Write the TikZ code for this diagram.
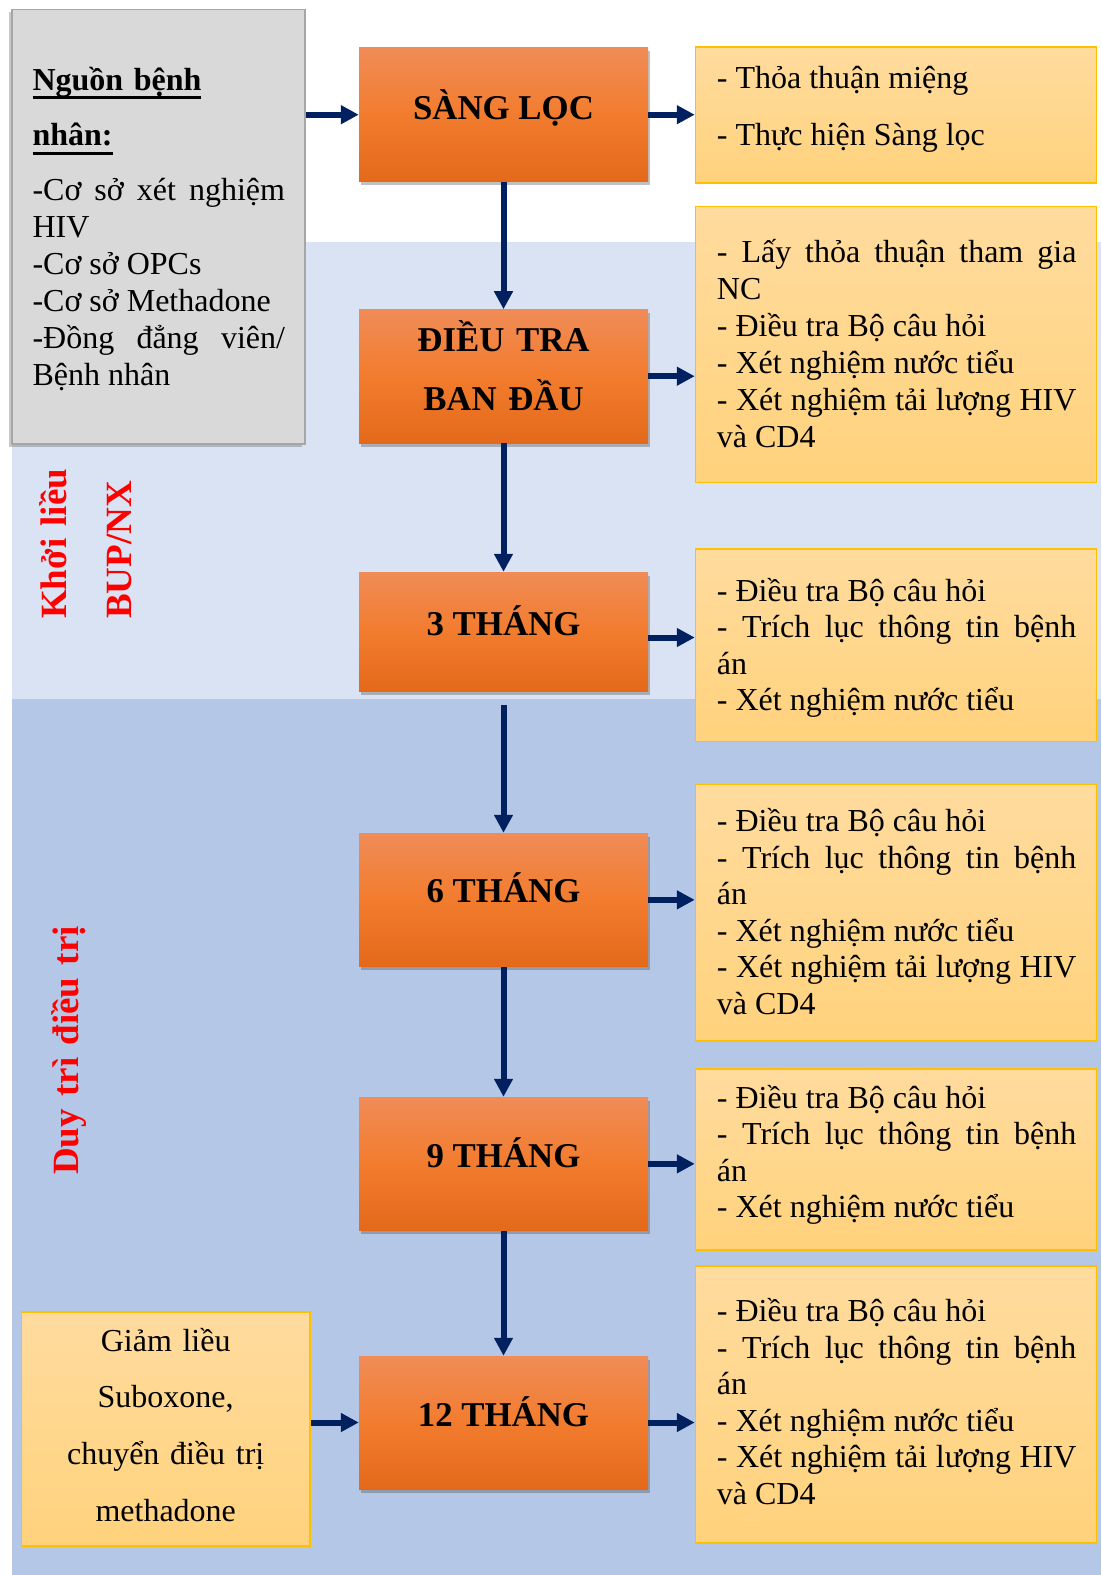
\documentclass[tikz,border=0pt]{standalone}
\usepackage{fontspec}
\setmainfont{Liberation Serif}
\usetikzlibrary{arrows.meta,shadows}
\definecolor{bandA}{HTML}{DAE3F3}
\definecolor{bandB}{HTML}{B4C7E7}
\definecolor{grayfill}{HTML}{D9D9D9}
\definecolor{grayline}{HTML}{A6A6A6}
\definecolor{orTop}{HTML}{F08C57}
\definecolor{orMid}{HTML}{F27C2E}
\definecolor{orBot}{HTML}{E4691A}
\definecolor{ylTop}{HTML}{FFDB9E}
\definecolor{ylBot}{HTML}{FFD27C}
\definecolor{ylLine}{HTML}{FFC000}
\definecolor{navy}{HTML}{002060}
\definecolor{lblred}{HTML}{FF0000}
\newcommand\myul[1]{\leavevmode\setbox0\hbox{#1}\rlap{\rule[-9pt]{\wd0}{3pt}}\box0}
\newcommand\jl[2]{\leavevmode\makebox[#1][s]{\spaceskip=0pt\xspaceskip=0pt\relax #2}}
\begin{document}
\begin{tikzpicture}[x=1pt,y=-1pt,
  orbox/.style={rectangle, inner sep=0pt, minimum width=289pt,
    top color=orTop, bottom color=orBot, middle color=orMid,
    drop shadow={shadow xshift=1.5pt, shadow yshift=-3.5pt, opacity=0.35, fill=black!70}},
  ylbox/.style={rectangle, inner sep=0pt, draw=ylLine, line width=1.5pt,
    top color=ylTop, bottom color=ylBot},
  graybox/.style={rectangle, inner sep=0pt, draw=grayline, line width=1.2pt, fill=grayfill,
    drop shadow={shadow xshift=-3pt, shadow yshift=-3pt, opacity=0.3, fill=black!70}},
  titletxt/.style={anchor=base, inner sep=0pt, font=\fontsize{34.8}{40}\selectfont\bfseries},
  bodytxt/.style={anchor=base west, inner sep=0pt, text width=359.5pt, align=justify,
    font=\fontsize{32}{36.5}\selectfont},
  redlbl/.style={inner sep=0pt, rotate=90, anchor=base west, text=lblred,
    text width=400pt, align=left, font=\fontsize{37}{65}\selectfont\bfseries},
  arr/.style={draw=navy, line width=6pt, -{Triangle[length=18pt,width=18pt]}}]

\useasboundingbox (0,0) rectangle (1101,1575);
\fill[white] (0,0) rectangle (1101,1575);
\fill[bandA] (12,241.7) rectangle (1101,699);
\fill[bandB] (12,699) rectangle (1101,1575);

% source box
\node[graybox, minimum width=293pt, minimum height=434.5pt] (src) at (158.5,226.7) {};
\node[bodytxt, text width=252.5pt, align=left, font=\fontsize{32}{55.7}\selectfont\bfseries] (srcT) at (32.3,90)
  {\myul{Nguồn bệnh}\\\myul{nhân:}};
\node[bodytxt, text width=252.5pt, font=\fontsize{32}{37}\selectfont] (srcL) at (32.3,200)
  {\jl{252.5pt}{-Cơ sở xét nghiệm}\\HIV\\-Cơ sở OPCs\\-Cơ sở Methadone\\\jl{252.5pt}{-Đồng đẳng viên/}\\Bệnh nhân};

% orange boxes
\node[orbox, minimum height=134pt] (sang) at (503.5,114.7) {};
\node[orbox, minimum height=133.6pt] (dieutra) at (503.5,376.2) {};
\node[orbox, minimum height=119pt] (t3) at (503.5,631.5) {};
\node[orbox, minimum height=133.7pt] (t6) at (503.5,899.85) {};
\node[orbox, minimum height=133.7pt] (t9) at (503.5,1163.85) {};
\node[orbox, minimum height=133pt] (t12) at (503.5,1422.5) {};

\node[titletxt] (sangT) at (503.5,119.3) {SÀNG LỌC};
\node[titletxt, text width=289pt, align=center, font=\fontsize{34.8}{58.5}\selectfont\bfseries] (dieutraT) at (503.5,351.6) {ĐIỀU TRA\\BAN ĐẦU};
\node[titletxt] (t3T) at (503.5,635) {3 THÁNG};
\node[titletxt] (t6T) at (503.5,902.7) {6 THÁNG};
\node[titletxt] (t9T) at (503.5,1167) {9 THÁNG};
\node[titletxt] (t12T) at (503.5,1426.7) {12 THÁNG};

% yellow boxes
\node[ylbox, minimum width=401pt, minimum height=136pt] (y1) at (896,115) {};
\node[ylbox, minimum width=401pt, minimum height=276pt] (y2) at (896,344.7) {};
\node[ylbox, minimum width=401pt, minimum height=192.7pt] (y3) at (896,645.3) {};
\node[ylbox, minimum width=401pt, minimum height=256.7pt] (y4) at (896,912.7) {};
\node[ylbox, minimum width=401pt, minimum height=181pt] (y5) at (896,1159.5) {};
\node[ylbox, minimum width=401pt, minimum height=277pt] (y6) at (896,1404.5) {};

\node[bodytxt, font=\fontsize{32}{57}\selectfont] (y1T) at (716.7,88.3)
  {- Thỏa thuận miệng\\- Thực hiện Sàng lọc};
\node[bodytxt, font=\fontsize{32}{37}\selectfont] (y2T) at (716.7,262)
  {\jl{359.5pt}{- Lấy thỏa thuận tham gia}\\NC\\- Điều tra Bộ câu hỏi\\- Xét nghiệm nước tiểu\\\jl{359.5pt}{- Xét nghiệm tải lượng HIV}\\và CD4};
\node[bodytxt] (y3T) at (716.7,601)
  {- Điều tra Bộ câu hỏi\\\jl{359.5pt}{- Trích lục thông tin bệnh}\\án\\- Xét nghiệm nước tiểu};
\node[bodytxt] (y4T) at (716.7,831.7)
  {- Điều tra Bộ câu hỏi\\\jl{359.5pt}{- Trích lục thông tin bệnh}\\án\\- Xét nghiệm nước tiểu\\\jl{359.5pt}{- Xét nghiệm tải lượng HIV}\\và CD4};
\node[bodytxt] (y5T) at (716.7,1108)
  {- Điều tra Bộ câu hỏi\\\jl{359.5pt}{- Trích lục thông tin bệnh}\\án\\- Xét nghiệm nước tiểu};
\node[bodytxt] (y6T) at (716.7,1321.7)
  {- Điều tra Bộ câu hỏi\\\jl{359.5pt}{- Trích lục thông tin bệnh}\\án\\- Xét nghiệm nước tiểu\\\jl{359.5pt}{- Xét nghiệm tải lượng HIV}\\và CD4};

% left yellow box
\node[ylbox, minimum width=288.7pt, minimum height=234.3pt] (lbox) at (165.7,1428.9) {};
\node[inner sep=0pt, anchor=base, text width=288pt, align=center, font=\fontsize{32}{56.9}\selectfont] (lboxT) at (165.7,1351)
  {Giảm liều\\Suboxone,\\chuyển điều trị\\methadone};

% red side labels
\node[redlbl] (lblA) at (66.7,619) {Khởi liều\\BUP/NX};
\node[redlbl] (lblB) at (78,1175) {Duy trì điều trị};

% arrows
\draw[arr] (src.east |- sang.west) -- (sang.west);
\draw[arr] (sang.east) -- (sang.east -| y1.west);
\draw[arr] (sang.south) -- (dieutra.north);
\draw[arr] (dieutra.east) -- (dieutra.east -| y2.west);
\draw[arr] (dieutra.south) -- (t3.north);
\draw[arr] ([yshift=-6pt]t3.east) -- ([yshift=-6pt]t3.east -| y3.west);
\draw[arr, shorten <=14pt] (t3.south) -- (t6.north);
\draw[arr] (t6.east) -- (t6.east -| y4.west);
\draw[arr] (t6.south) -- (t9.north);
\draw[arr] (t9.east) -- (t9.east -| y5.west);
\draw[arr] (t9.south) -- (t12.north);
\draw[arr] (t12.east) -- (t12.east -| y6.west);
\draw[arr] (t12.west -| lbox.east) -- (t12.west);
\end{tikzpicture}
\end{document}
